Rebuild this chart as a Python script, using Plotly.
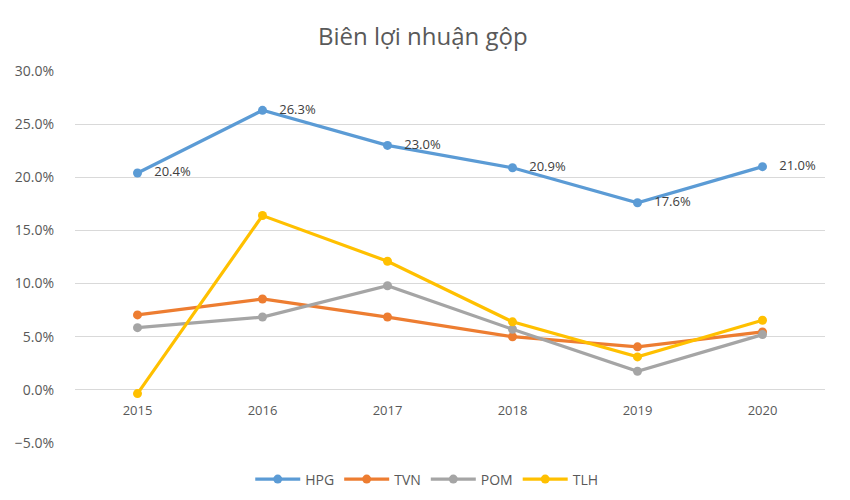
import plotly.graph_objects as go

years = ["2015", "2016", "2017", "2018", "2019", "2020"]
hpg = [20.4, 26.3, 23.0, 20.9, 17.6, 21.0]
tvn = [7.05, 8.55, 6.85, 5.0, 4.05, 5.45]
pom = [5.85, 6.85, 9.8, 5.7, 1.75, 5.2]
tlh = [-0.35, 16.4, 12.1, 6.4, 3.1, 6.55]

series = [
    ("HPG", hpg, "#5B9BD5"),
    ("TVN", tvn, "#ED7D31"),
    ("POM", pom, "#A5A5A5"),
    ("TLH", tlh, "#FFC000"),
]

font_family = "Open Sans, Noto Sans, sans-serif"
fig = go.Figure()
for name, vals, color in series:
    is_hpg = name == "HPG"
    fig.add_trace(go.Scatter(
        x=years, y=vals, name=name,
        mode="lines+markers+text" if is_hpg else "lines+markers",
        line=dict(color=color, width=3.2),
        marker=dict(color=color, size=9),
        text=[f"   {v:.1f}%" for v in vals] if is_hpg else None,
        textposition="middle right",
        textfont=dict(size=13, color="#404040", family=font_family),
        cliponaxis=False,
    ))

ymin, ymax = -5, 30
fig.update_layout(
    width=850, height=500,
    paper_bgcolor="white", plot_bgcolor="white",
    margin=dict(l=67, r=33, t=63, b=65, autoexpand=False),
    title=dict(text="Biên lợi nhuận gộp", x=0.488, xanchor="center",
               y=1 - 29 / 500, yanchor="middle", automargin=False,
               font=dict(size=24, color="#595959", family=font_family)),
    font=dict(family=font_family, color="#595959", size=13),
    showlegend=True,
    legend=dict(orientation="h", x=0.469, xanchor="center", y=-0.055, yanchor="top",
                font=dict(size=14, color="#595959"), itemwidth=45, tracegroupgap=0),
    xaxis=dict(type="category", range=[-0.5, 5.5], showgrid=False, showline=False, ticks="",
               anchor="free", position=(0 - ymin) / (ymax - ymin), automargin=False,
               tickfont=dict(size=13, color="#595959"), ticklabelstandoff=11),
    yaxis=dict(range=[ymin, ymax], dtick=5, tickformat=".1f", ticksuffix="%",
               gridcolor="#D9D9D9", gridwidth=1, zeroline=False, showline=False,
               automargin=False,
               tickfont=dict(size=14, color="#595959"), ticklabelstandoff=20),
)

fig.write_html("out.html")
